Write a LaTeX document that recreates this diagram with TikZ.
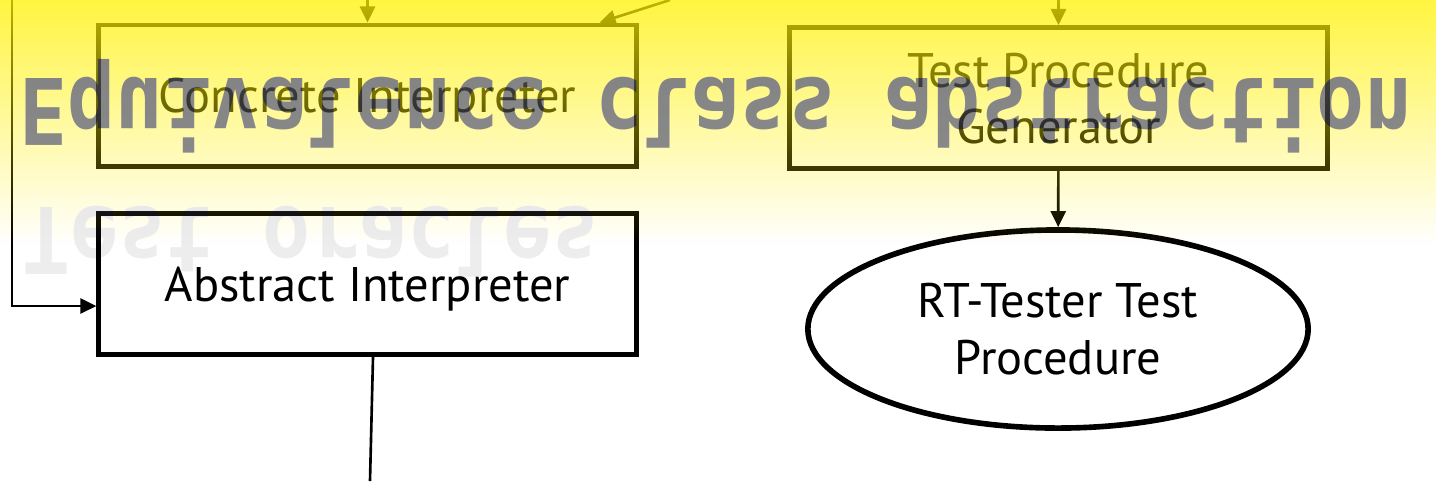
\documentclass[tikz,border=0pt]{standalone}
\usepackage{fontspec}
\setmainfont{PT Sans}
\newfontfamily\markfont{DejaVu Sans Mono}
\usetikzlibrary{positioning,arrows.meta,shapes.geometric,fadings}

\tikzfading[name=sunfade, top color=transparent!25, bottom color=transparent!100]
\begin{tikzfadingfrompicture}[name=mirrorfade]
  \shade[top color=transparent!0, bottom color=transparent!60] (-8cm,-0.5cm) rectangle (8cm,0.5cm);
\end{tikzfadingfrompicture}

\tikzset{
  block/.style={draw, line width=1.4pt, minimum width=5.37cm, minimum height=1.41cm,
    align=center, text depth=0pt, font=\fontsize{13.8}{16}\selectfont},
  goal/.style={draw, ellipse, line width=1.6pt, minimum width=5cm, minimum height=1.98cm,
    align=center, font=\fontsize{13.8}{16}\selectfont},
  flow/.style={line width=0.75pt, -{Triangle[length=1.6mm,width=1.5mm]}},
  wmark/.style={inner sep=0pt, yscale=-1.15, transform shape,
    font=\markfont\bfseries\fontsize{22.7}{27}\selectfont},
}

\begin{document}
\begin{tikzpicture}[x=0.01cm, y=-0.01cm]
\useasboundingbox (0,0) rectangle (1436,481);
\fill[white] (0,0) rectangle (1436,481);

\node[block] (conc) at (367.5,95.5) {Concrete Interpreter};
\node[block] (abs) at (367.5,284) {Abstract Interpreter};
\node[block] (gen) at (1058.5,98) {Test Procedure\\Generator};
\node[goal] (rtt) at (1058,329) {RT-Tester Test\\Procedure};

\coordinate (in1) at (12,0);
\coordinate (in2) at (367.5,0);
\coordinate (in3) at (670,0);
\coordinate (in4) at (1058.5,0);
\coordinate (out1) at (370,481);

\draw[flow] (in1) |- ([yshift=-2.2mm]abs.west);
\draw[flow] (in2) -- (conc);
\draw[flow] (in3) -- ([xshift=-3.9mm]conc.north east);
\draw[flow] (in4) -- (gen);
\draw[flow] (gen) -- (rtt);
\draw[line width=0.75pt] ([xshift=0.55mm]abs.south) -- (out1);

% yellow glow over the top
\fill[yellow, path fading=sunfade] (0,0) rectangle (1436,245);

% mirrored headings: grey out what lies below, then darken
\begin{scope}[blend mode=saturation]
  \node[wmark, anchor=base, gray] (eqbase) at (716,78) {Equivalence class abstraction};
  \node[wmark, anchor=base west, gray] (orbase) at (22,207) {Test oracles};
\end{scope}
\begin{scope}[scope fading=mirrorfade, fading transform={shift={(716,100)}}]
  \node[wmark, anchor=base, opacity=0.44] (eq) at (716,78) {Equivalence class abstraction};
\end{scope}
\begin{scope}[scope fading=mirrorfade, fading transform={shift={(716,235)}}]
  \node[wmark, anchor=base west, opacity=0.07] (or) at (22,207) {Test oracles};
\end{scope}
\end{tikzpicture}
\end{document}
